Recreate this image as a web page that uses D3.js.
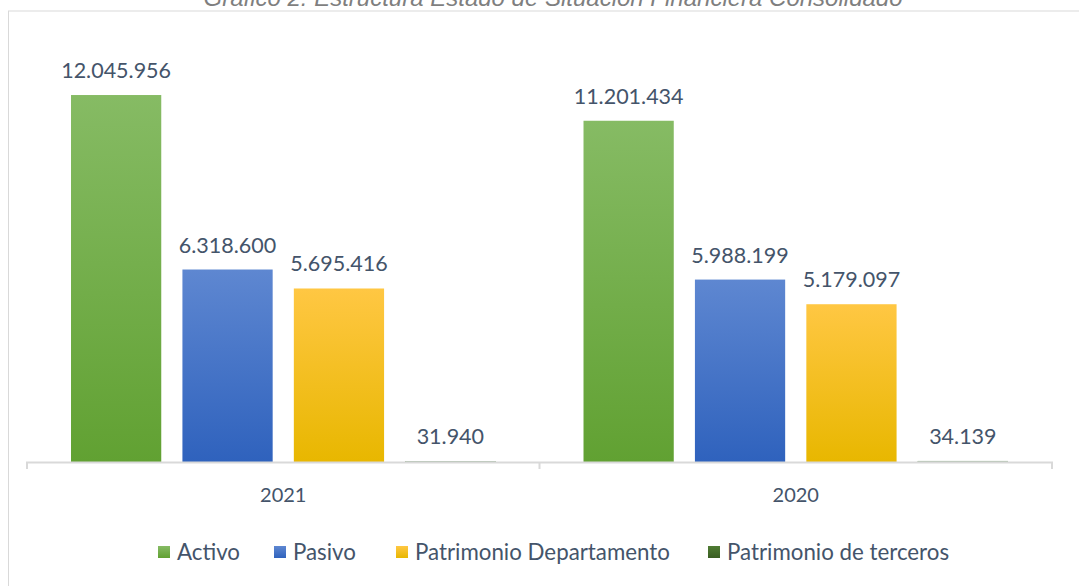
<!DOCTYPE html>
<html><head><meta charset="utf-8">
<script src="https://cdn.jsdelivr.net/npm/d3@7/dist/d3.min.js"></script>
<style>body{margin:0;background:#fff;}svg{display:block;}</style>
</head><body>
<script>
const years = ["2021", "2020"];
const series = ["Activo", "Pasivo", "Patrimonio Departamento", "Patrimonio de terceros"];
const values2021 = [12045956, 6318600, 5695416, 31940];
const values2020 = [11201434, 5988199, 5179097, 34139];
const title = "Gráfico 2: Estructura Estado de Situación Financiera Consolidado";
const gradTop = ["#86BB64", "#5E87D1", "#FFC743", "#4F7C33"];
const gradBot = ["#61A132", "#2F62BD", "#E8B700", "#3A5E22"];

const W = 1079, H = 586;
const svg = d3.select("body").append("svg").attr("width", W).attr("height", H);
const defs = svg.append("defs");
series.forEach((s, i) => {
  const g = defs.append("linearGradient").attr("id", "g" + i).attr("x1", 0).attr("y1", 0).attr("x2", 0).attr("y2", 1);
  g.append("stop").attr("offset", "0%").attr("stop-color", gradTop[i]);
  g.append("stop").attr("offset", "100%").attr("stop-color", gradBot[i]);
});

// chart frame
svg.append("rect").attr("x", 8.5).attr("y", 11).attr("width", W + 20).attr("height", H + 20)
  .attr("fill", "#fff").attr("stroke", "#D9D9D9").attr("stroke-width", 1);

svg.append("text").attr("x", 553).attr("y", 6).attr("text-anchor", "middle")
  .attr("font-family", "Liberation Sans, Arial, sans-serif").attr("font-style", "italic")
  .attr("font-size", 24).attr("fill", "#7F7F7F").text(title);

const x0 = d3.scaleBand().domain(years).range([27, 1052]).padding(0);
const x1 = d3.scaleBand().domain(series).range([0, x0.bandwidth()]).paddingInner(0.19).paddingOuter(0.395);
const y = d3.scaleLinear().domain([0, 14000000]).range([462, 35.5]);

const data = years.map((yr, j) => ({ year: yr, vals: (j === 0 ? values2021 : values2020) }));

const groups = svg.selectAll("g.grp").data(data).enter().append("g")
  .attr("transform", d => `translate(${x0(d.year)},0)`);

groups.selectAll("rect").data(d => d.vals.map((v, i) => ({ s: series[i], v, i }))).enter().append("rect")
  .attr("x", d => x1(d.s)).attr("width", x1.bandwidth())
  .attr("y", d => y(d.v)).attr("height", d => y(0) - y(d.v))
  .attr("fill", d => `url(#g${d.i})`);

// axis
const ticksX = [x0.range()[0]].concat(years.map(yr => x0(yr) + x0.bandwidth()));
svg.append("line").attr("x1", 26).attr("x2", 1053).attr("y1", 462.5).attr("y2", 462.5)
  .attr("stroke", "#D9D9D9").attr("stroke-width", 2);
svg.selectAll("line.tk").data(ticksX).enter().append("line")
  .attr("x1", d => d).attr("x2", d => d).attr("y1", 462).attr("y2", 469)
  .attr("stroke", "#D9D9D9").attr("stroke-width", 2);

// thin terceros bars drawn over axis
groups.selectAll("rect.top").data(d => [d.vals[3]]).enter().append("rect")
  .attr("x", x1(series[3])).attr("width", x1.bandwidth())
  .attr("y", d => Math.min(y(d), 461)).attr("height", 1.5).attr("fill", "#A9BDA6");

const fmt = v => d3.format(",")(v).replace(/,/g, ".");
groups.selectAll("text.val").data(d => d.vals.map((v, i) => ({ s: series[i], v }))).enter().append("text")
  .attr("x", d => x1(d.s) + x1.bandwidth() / 2).attr("y", d => y(d.v) - 17)
  .attr("text-anchor", "middle").attr("font-family", "Lato, sans-serif").attr("font-size", 21.5)
  .attr("fill", "#44546A").text(d => fmt(d.v));

groups.append("text").attr("x", x0.bandwidth() / 2).attr("y", 502)
  .attr("text-anchor", "middle").attr("font-family", "Lato, sans-serif").attr("font-size", 20)
  .attr("fill", "#44546A").text(d => d.year);

// legend
const legX = [158, 274, 396, 708];
const leg = svg.selectAll("g.leg").data(series).enter().append("g")
  .attr("transform", (d, i) => `translate(${legX[i]},0)`);
leg.append("rect").attr("x", 0).attr("y", 546).attr("width", 12).attr("height", 12)
  .attr("fill", (d, i) => `url(#g${i})`);
leg.append("text").attr("x", 19).attr("y", 559.5).attr("font-family", "Lato, sans-serif")
  .attr("font-size", 22.3).attr("fill", "#44546A").text(d => d);
</script>
</body></html>
